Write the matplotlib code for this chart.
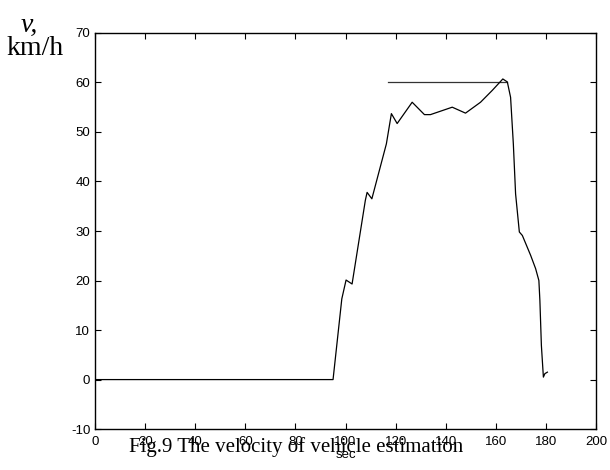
import matplotlib
matplotlib.use("Agg")
import matplotlib.pyplot as plt

# estimated vehicle speed, km/h, against time, s
time_s = [0, 95.0, 98.5, 100.2, 102.6, 107.9, 108.6, 110.5, 116.3, 118.3, 120.6,
          126.6, 131.5, 133.9, 142.6, 147.9, 153.9, 158.6, 162.8, 164.6, 165.9,
          167.0, 167.9, 169.4, 170.6, 173.9, 175.9, 177.2, 177.6, 178.2, 179.0,
          179.6, 180.6]
speed_kmh = [0, 0, 16.3, 20.1, 19.3, 36.2, 37.8, 36.5, 47.6, 53.7, 51.7,
             56.0, 53.5, 53.5, 55.0, 53.8, 56.0, 58.4, 60.7, 60.1, 57.0,
             47.6, 37.5, 29.8, 29.1, 25.1, 22.4, 20.0, 16.0, 6.9, 0.5,
             1.2, 1.5]

# reference speed level
ref_time = [116.8, 164.6]
ref_speed = [60, 60]

x_ticks = list(range(0, 201, 20))
y_ticks = list(range(-10, 71, 10))


def main():
    plt.rcParams["axes.unicode_minus"] = False
    fig = plt.figure(figsize=(6.1, 4.7), dpi=100)
    ax = fig.add_axes([0.156, 0.087, 0.821, 0.843])

    ax.plot(ref_time, ref_speed, color="#333333", linewidth=0.9)
    ax.plot(time_s, speed_kmh, color="black", linewidth=0.9)

    ax.set_xlim(0, 200)
    ax.set_ylim(-10, 70)
    ax.set_xticks(x_ticks)
    ax.set_yticks(y_ticks)
    ax.tick_params(direction="in", top=True, right=True, length=4,
                   labelsize=9.5)
    ax.tick_params(axis="x", pad=5)
    ax.tick_params(axis="y", pad=3.5)
    for label in ax.get_xticklabels() + ax.get_yticklabels():
        label.set_fontfamily("Liberation Sans")
    for spine in ax.spines.values():
        spine.set_linewidth(1.0)

    ax.set_xlabel("sec", fontsize=9.5, fontfamily="Liberation Sans",
                  labelpad=1)

    fig.text(0.033, 0.947, "v,", fontsize=20, fontstyle="italic",
             fontfamily="Liberation Serif", ha="left", va="center")
    fig.text(0.01, 0.896, "km/h", fontsize=20, fontfamily="Liberation Serif",
             ha="left", va="center")
    fig.text(0.485, 0.049, "Fig.9 The velocity of vehicle estimation",
             fontsize=15, fontfamily="Liberation Serif", ha="center",
             va="center")

    fig.savefig("out.png", dpi=100)


if __name__ == "__main__":
    main()
